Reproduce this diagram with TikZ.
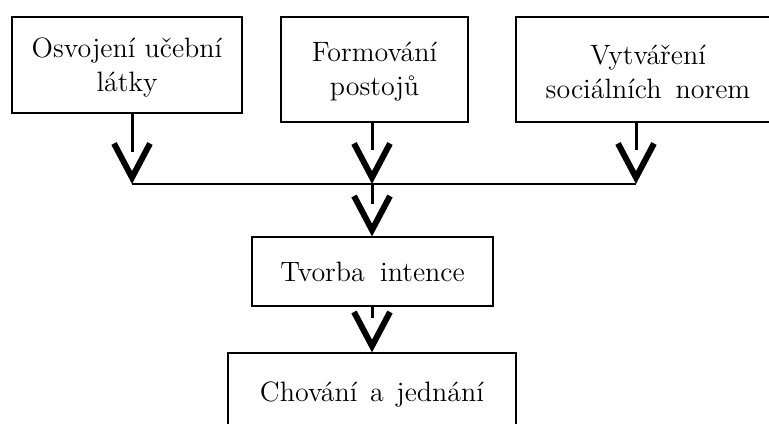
\documentclass[tikz,border=0pt]{standalone}
\usetikzlibrary{calc}
\newcommand\vhead[1]{\draw[vtip] ($(#1)+(-18,-34)$) -- (#1) -- ($(#1)+(18,-34)$);}
\begin{document}
\begin{tikzpicture}[x=0.5pt,y=-0.5pt,
  box/.style={draw,line width=1pt,inner sep=0pt,outer sep=0pt,align=center,
    font=\fontsize{14}{17}\selectfont},
  stem/.style={line width=1.5pt},
  bus/.style={line width=1pt},
  vtip/.style={line width=3pt,line join=miter}]
\useasboundingbox (0,0) rectangle (769,423);
\clip (0,0) rectangle (769,423);
\fill[white] (0,0) rectangle (769,423);
% boxes
\node[box,minimum width=115pt,minimum height=48pt] (b1) at (127,65) {\rule{0pt}{12pt}Osvojení učební\\látky};
\node[box,minimum width=93.5pt,minimum height=52.5pt] (b2) at (374.5,69.5) {\rule{0pt}{12pt}Formování\\postojů};
\node[box,minimum width=132pt,minimum height=52.5pt] (b3) at (648,69.5) {\rule{0pt}{12pt}Vytváření\\sociálních\hspace{0.5em}norem};
\node[box,minimum width=120.5pt,minimum height=34.5pt] (b4) at (372.5,271.5) {Tvorba\hspace{0.55em}intence};
\node[box,minimum width=144pt,minimum height=41pt] (b5) at (372,394) {Chování\hspace{0.45em}a\hspace{0.45em}jednání};
% junctions
\coordinate (j1) at (132,184);
\coordinate (j2) at (372,184);
\coordinate (j3) at (636,184);
\coordinate (a1) at ($(j1)+(0,-6.5)$);
\coordinate (a2) at ($(j2)+(0,-6.5)$);
\coordinate (a3) at ($(j3)+(0,-6.5)$);
\coordinate (a4) at ($(b4.north -| j2)+(0,-7)$);
\coordinate (a5) at ($(b5.north -| j2)+(0,-7)$);
% stems
\draw[stem] (b1.south -| j1) -- ($(j1)+(0,-32)$);
\draw[stem] (b2.south -| j2) -- ($(j2)+(0,-34)$);
\draw[stem] (b3.south -| j3) -- ($(j3)+(0,-34)$);
\draw[bus] (j1) -- (j3);
\draw[stem] (j2) -- ($(j2)+(0,20)$);
\draw[stem] (b4.south -| j2) -- ($(b4.south -| j2)+(0,12)$);
% arrow heads
\vhead{a1}
\vhead{a2}
\vhead{a3}
\vhead{a4}
\vhead{a5}
\end{tikzpicture}
\end{document}
